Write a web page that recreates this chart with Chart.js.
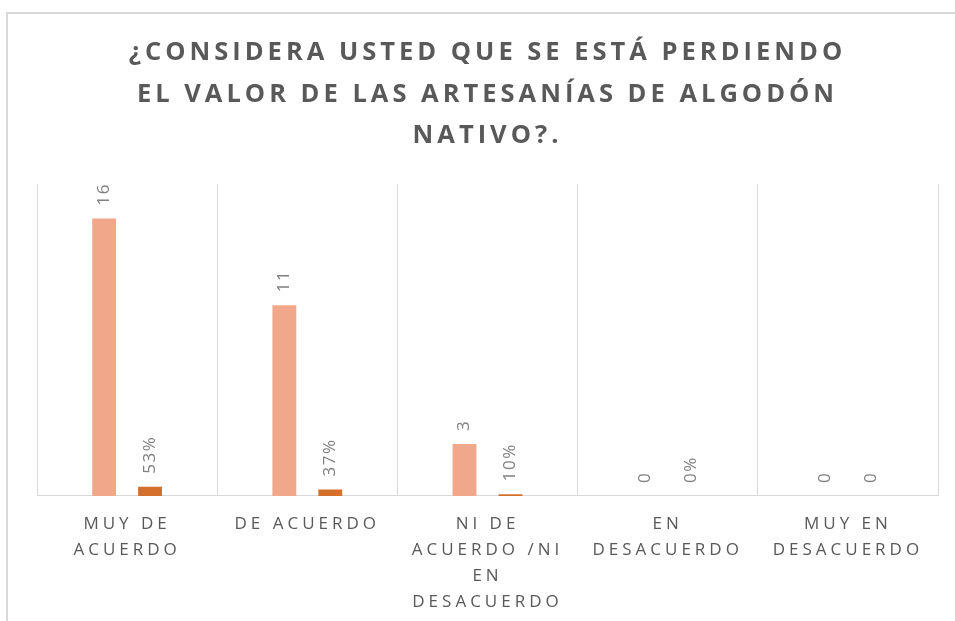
<!DOCTYPE html>
<html>
<head>
<meta charset="utf-8">
<script src="https://cdn.jsdelivr.net/npm/chart.js@4.4.1/dist/chart.umd.min.js"></script>
<style>
  html, body { margin: 0; padding: 0; background: #ffffff; }
  #wrap { position: relative; width: 955px; height: 621px; overflow: hidden; }
  #frame { position: absolute; left: 6px; top: 12px; width: 1000px; height: 700px;
           border-left: 2px solid #d9d9d9; border-top: 2px solid #d9d9d9; }
  canvas { position: absolute; left: 0; top: 0; }
</style>
</head>
<body>
<div id="wrap">
  <div id="frame"></div>
  <canvas id="c" width="955" height="621"></canvas>
</div>
<script>
const titleLines = ["¿CONSIDERA USTED QUE SE ESTÁ PERDIENDO", "EL VALOR DE LAS ARTESANÍAS DE ALGODÓN", "NATIVO?."];
const categories = [
  ["MUY DE", "ACUERDO"],
  ["DE ACUERDO"],
  ["NI DE", "ACUERDO /NI", "EN", "DESACUERDO"],
  ["EN", "DESACUERDO"],
  ["MUY EN", "DESACUERDO"]
];
const countValues = [16, 11, 3, 0, 0];
const percentValues = [0.53, 0.37, 0.10, 0, 0];
const countLabels = ["16", "11", "3", "0", "0"];
const percentLabels = ["53%", "37%", "10%", "0%", "0"];

const spacingPlugin = {
  id: 'spacing',
  beforeUpdate(chart) { chart.ctx.letterSpacing = '4px'; },
  beforeDraw(chart) { chart.ctx.letterSpacing = '4px'; }
};

const labelPlugin = {
  id: 'barLabels',
  afterDatasetsDraw(chart) {
    const ctx = chart.ctx;
    const sets = [countLabels, percentLabels];
    chart.data.datasets.forEach((ds, di) => {
      const meta = chart.getDatasetMeta(di);
      meta.data.forEach((bar, i) => {
        ctx.save();
        ctx.letterSpacing = '1.5px';
        ctx.font = '17px "Open Sans"';
        ctx.fillStyle = '#808080';
        ctx.textAlign = 'left';
        ctx.textBaseline = 'middle';
        ctx.translate(bar.x, bar.y - 13);
        ctx.rotate(-Math.PI / 2);
        ctx.fillText(sets[di][i], 0, 0);
        ctx.restore();
      });
    });
  }
};

new Chart(document.getElementById('c'), {
  type: 'bar',
  data: {
    labels: categories,
    datasets: [
      { data: countValues, backgroundColor: '#F1A88A', categoryPercentage: 0.51, barPercentage: 0.52 },
      { data: percentValues, backgroundColor: '#D4702C', categoryPercentage: 0.51, barPercentage: 0.52 }
    ]
  },
  options: {
    responsive: false,
    animation: false,
    devicePixelRatio: 1,
    layout: { padding: { left: 37, right: 17, top: 32, bottom: -9 } },
    plugins: {
      legend: { display: false },
      tooltip: { enabled: false },
      title: {
        display: true,
        text: titleLines,
        color: '#595959',
        font: { family: '"Open Sans"', size: 25.5, weight: 'bold', lineHeight: 1.63 },
        padding: { top: 0, bottom: 27 }
      }
    },
    scales: {
      x: {
        grid: { display: true, color: '#d9d9d9', lineWidth: 1, drawTicks: false, offset: true },
        border: { display: true, color: '#d9d9d9', width: 1 },
        ticks: {
          color: '#595959',
          font: { family: '"Open Sans"', size: 17, lineHeight: 1.53 },
          padding: 15,
          maxRotation: 0,
          autoSkip: false
        }
      },
      y: {
        display: false,
        min: 0,
        max: 18
      }
    }
  },
  plugins: [spacingPlugin, labelPlugin]
});
</script>
</body>
</html>
